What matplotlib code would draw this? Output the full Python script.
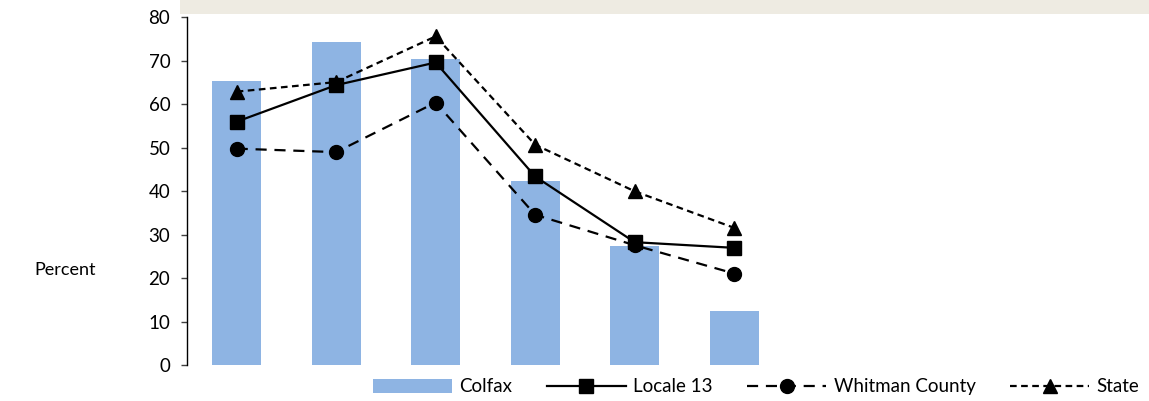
"""
Colfax vs Locale 13, Whitman County and State: percent by category.
"""

# Imports #
import numpy as np
from matplotlib import pyplot as plt
from matplotlib.patches import Rectangle

# Data #
categories = ["1", "2", "3", "4", "5", "6"]
colfax = [65.4, 74.3, 70.4, 42.3, 27.5, 12.4]
locale_13 = [56.0, 64.4, 69.6, 43.4, 28.3, 27.0]
whitman = [49.8, 49.0, 60.4, 34.6, 27.6, 21.1]
state = [62.9, 65.1, 75.6, 50.7, 40.0, 31.6]
y_ticks = [0, 10, 20, 30, 40, 50, 60, 70, 80]

plt.rcParams['font.family'] = ['Lato', 'DejaVu Sans']

fig = plt.figure(figsize=(11.49, 4.01), dpi=100)

# Beige band left over from the cropped title area
fig.patches.append(Rectangle((0.1567, 0.965), 0.8433, 0.04, transform=fig.transFigure,
                             facecolor='#EEEBE2', edgecolor='none', zorder=0))

ax = fig.add_axes([0.1627, 0.089, 0.8295, 0.868])
x = np.arange(len(categories))

bars = ax.bar(x, colfax, width=0.49, color='#8EB4E3', label='Colfax', zorder=1)
l1, = ax.plot(x, locale_13, color='black', lw=1.6, ls='-', marker='s', markersize=10,
              label='Locale 13', zorder=3)
l2, = ax.plot(x, whitman, color='black', lw=1.6, ls=(0, (5, 3.5)), marker='o', markersize=10,
              label='Whitman County', zorder=3)
l3, = ax.plot(x, state, color='black', lw=1.6, ls=(0, (3, 2)), marker='^', markersize=10,
              label='State', zorder=3)

ax.set_xlim(-0.5, 9.08)
ax.set_ylim(0, 80)
ax.set_yticks(y_ticks)
ax.set_xticks([])
ax.tick_params(axis='y', direction='out', length=4, width=1, color='#404040',
               pad=8, labelsize=13.5)

for side in ['top', 'right', 'bottom']:
    ax.spines[side].set_visible(False)
ax.spines['left'].set_color('black')
ax.spines['left'].set_linewidth(1)

fig.text(0.030, 1 - 270 / 401, "Percent", fontsize=13, va='center', ha='left')

ax.legend(handles=[bars, l1, l2, l3], loc='center', bbox_to_anchor=(0.658, 0.035),
          bbox_transform=fig.transFigure, ncol=4, frameon=False, fontsize=13.5,
          handlelength=4.2, handleheight=0.8, handletextpad=0.4, columnspacing=1.85)

fig.savefig("out.png", dpi=100)
